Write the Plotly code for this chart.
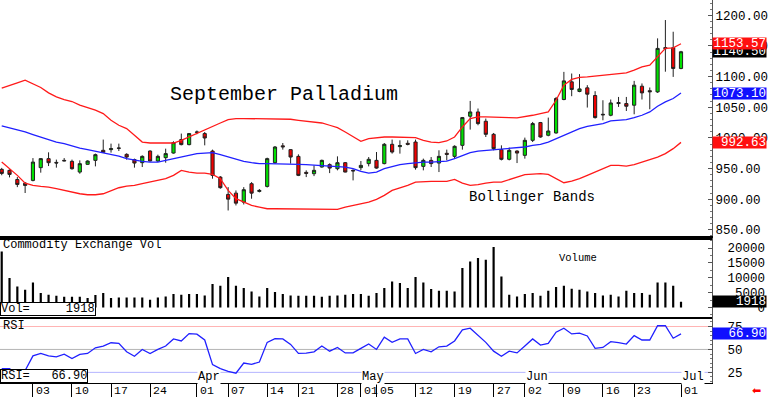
import plotly.graph_objects as go
from plotly.subplots import make_subplots

MONO = "Liberation Mono"

dates = [
    "2025-02-25", "2025-02-26", "2025-02-27", "2025-02-28",
    "2025-03-03", "2025-03-04", "2025-03-05", "2025-03-06", "2025-03-07",
    "2025-03-10", "2025-03-11", "2025-03-12", "2025-03-13", "2025-03-14",
    "2025-03-17", "2025-03-18", "2025-03-19", "2025-03-20", "2025-03-21",
    "2025-03-24", "2025-03-25", "2025-03-26", "2025-03-27", "2025-03-28",
    "2025-03-31", "2025-04-01", "2025-04-02", "2025-04-03", "2025-04-04",
    "2025-04-07", "2025-04-08", "2025-04-09", "2025-04-10", "2025-04-11",
    "2025-04-14", "2025-04-15", "2025-04-16", "2025-04-17",
    "2025-04-21", "2025-04-22", "2025-04-23", "2025-04-24", "2025-04-25",
    "2025-04-28", "2025-04-29", "2025-04-30", "2025-05-01", "2025-05-02",
    "2025-05-05", "2025-05-06", "2025-05-07", "2025-05-08", "2025-05-09",
    "2025-05-12", "2025-05-13", "2025-05-14", "2025-05-15", "2025-05-16",
    "2025-05-19", "2025-05-20", "2025-05-21", "2025-05-22", "2025-05-23",
    "2025-05-27", "2025-05-28", "2025-05-29", "2025-05-30",
    "2025-06-02", "2025-06-03", "2025-06-04", "2025-06-05", "2025-06-06",
    "2025-06-09", "2025-06-10", "2025-06-11", "2025-06-12", "2025-06-13",
    "2025-06-16", "2025-06-17", "2025-06-18", "2025-06-20",
    "2025-06-23", "2025-06-24", "2025-06-25", "2025-06-26", "2025-06-27",
    "2025-06-30", "2025-07-01",
]

open_ = [948.6, 947.0, 932.0, 926.0, 930.6, 951.4, 966.1, 960.0, 963.3, 961.7,
         944.2, 956.8, 963.3, 979.7, 980.8, 983.5, 973.1, 964.5, 959.5, 978.5,
         962.2, 967.7, 975.2, 997.2, 989.0, 1009.0, 1007.0, 978.5, 936.0, 907.7,
         909.8, 895.1, 925.2, 912.6, 920.8, 959.5, 987.0, 980.8, 969.8, 943.7,
         941.5, 952.4, 956.3, 949.7, 959.5, 947.0, 951.4, 958.0, 963.3, 958.0,
         989.5, 985.7, 991.1, 993.2, 953.5, 963.3, 958.9, 974.8, 969.8, 987.8,
         1035.3, 1042.3, 1027.1, 1005.8, 980.8, 965.0, 978.5, 971.5, 996.0, 1025.0,
         1004.2, 1008.0, 1062.6, 1091.4, 1075.7, 1081.6, 1069.1, 1038.5, 1036.9, 1057.7,
         1056.0, 1053.3, 1084.3, 1077.0, 1075.0, 1147.3, 1147.0, 1113.3]
high = [951.0, 948.6, 936.0, 928.0, 967.0, 967.0, 976.4, 964.5, 967.0, 964.5,
        963.3, 963.3, 974.3, 997.2, 990.6, 990.6, 974.8, 966.1, 971.5, 979.7,
        972.6, 982.4, 994.4, 1007.0, 1008.0, 1012.0, 1009.6, 980.8, 937.6, 919.6,
        914.2, 919.6, 927.8, 916.4, 967.7, 986.7, 991.6, 981.3, 973.1, 947.0,
        955.1, 964.5, 958.4, 969.8, 960.5, 948.6, 962.2, 968.7, 976.9, 991.6,
        997.2, 996.0, 996.0, 997.2, 966.1, 968.7, 979.7, 980.8, 987.8, 1034.1,
        1060.3, 1047.9, 1031.5, 1008.0, 987.8, 984.1, 979.7, 1000.4, 1026.0, 1026.0,
        1033.1, 1066.8, 1107.7, 1105.0, 1104.0, 1086.0, 1076.2, 1061.4, 1062.6, 1066.8,
        1066.8, 1093.0, 1088.8, 1082.2, 1162.4, 1192.3, 1173.2, 1142.0]
low = [939.0, 935.5, 919.6, 910.0, 929.0, 943.2, 954.0, 951.4, 961.7, 948.1,
       941.5, 956.0, 953.5, 975.6, 975.9, 978.5, 964.5, 951.4, 952.4, 961.7,
       960.5, 959.5, 974.3, 987.8, 987.8, 1006.0, 987.8, 933.4, 917.0, 881.5,
       889.7, 891.3, 900.7, 911.0, 919.0, 957.9, 980.8, 957.9, 937.6, 936.0,
       937.6, 951.4, 942.5, 947.0, 943.7, 930.6, 947.0, 953.5, 949.7, 956.8,
       974.3, 974.3, 987.8, 948.1, 947.0, 952.4, 944.2, 963.3, 966.1, 980.8,
       1013.5, 1020.6, 1001.4, 979.7, 963.3, 963.3, 958.9, 966.1, 993.2, 1000.4,
       1002.6, 1007.0, 1061.4, 1068.0, 1074.5, 1049.5, 1031.5, 1028.7, 1035.3, 1050.5,
       1043.9, 1038.5, 1062.6, 1046.7, 1073.4, 1108.0, 1099.5, 1112.0]
close = [942.0, 940.4, 924.0, 922.4, 960.5, 966.1, 959.5, 959.0, 962.5, 949.7,
         957.9, 962.2, 972.6, 976.4, 982.4, 983.0, 968.7, 958.9, 969.8, 962.2,
         969.8, 974.3, 992.3, 989.0, 1007.0, 1009.5, 999.8, 938.8, 918.7, 900.0,
         893.5, 915.4, 909.8, 914.2, 966.1, 985.1, 985.4, 968.7, 938.8, 942.1,
         947.0, 963.3, 950.7, 959.5, 944.2, 946.1, 955.1, 965.0, 950.7, 989.5,
         976.9, 987.4, 989.5, 951.4, 963.3, 958.0, 969.8, 973.1, 986.2, 1033.1,
         1042.3, 1023.3, 1005.8, 982.4, 965.0, 979.7, 975.2, 996.0, 1023.3, 1001.4,
         1011.2, 1064.2, 1093.0, 1079.0, 1079.9, 1071.3, 1033.1, 1037.7, 1057.0, 1056.0,
         1051.6, 1086.0, 1073.4, 1075.3, 1146.0, 1145.7, 1113.3, 1140.5]

bb_upper = [1081.0, 1086.0, 1089.7, 1094.2, 1088.8, 1082.2, 1073.4, 1066.8, 1062.6, 1059.3,
            1053.3, 1049.5, 1045.1, 1039.7, 1028.7, 1020.6, 1015.1, 1004.2, 993.2, 991.6,
            991.6, 991.6, 991.6, 996.0, 1001.4, 1008.0, 1012.4, 1018.9, 1024.3, 1029.9,
            1031.5, 1031.5, 1031.5, 1031.5, 1031.5, 1030.9, 1030.4, 1030.4, 1028.7, 1027.6,
            1026.0, 1024.3, 1020.6, 1016.8, 1009.6, 1001.4, 994.4, 998.8, 1000.4, 1001.4,
            1001.4, 1001.4, 1001.4, 1000.4, 996.0, 993.2, 992.3, 994.9, 1001.4, 1017.8,
            1031.5, 1034.1, 1034.1, 1034.1, 1034.1, 1033.1, 1032.5, 1034.1, 1036.9, 1039.7,
            1042.3, 1061.4, 1086.0, 1095.3, 1098.6, 1099.5, 1100.7, 1102.3, 1104.0, 1105.1,
            1106.1, 1110.5, 1115.9, 1118.7, 1132.3, 1146.0, 1147.0, 1153.57]
bb_mid = [1019.4, 1016.2, 1012.4, 1009.6, 1005.3, 1001.4, 997.2, 993.2, 990.6, 986.7,
          983.4, 980.8, 978.0, 975.9, 973.1, 970.3, 966.1, 963.3, 961.7, 960.5,
          960.5, 963.3, 966.1, 969.8, 972.6, 974.3, 975.2, 975.9, 972.6, 968.7,
          965.0, 961.7, 959.5, 957.9, 957.9, 957.9, 957.9, 957.9, 956.8, 956.3,
          955.6, 955.1, 954.0, 953.5, 952.4, 949.7, 945.3, 942.5, 944.2, 949.7,
          953.5, 956.3, 957.9, 959.5, 960.5, 960.5, 961.2, 962.2, 966.1, 971.5,
          975.9, 978.5, 979.7, 980.8, 981.3, 982.4, 983.4, 985.1, 987.8, 989.5,
          993.2, 998.8, 1004.2, 1009.6, 1015.1, 1018.9, 1020.6, 1023.3, 1027.6, 1028.7,
          1029.9, 1033.1, 1036.9, 1042.3, 1051.6, 1058.7, 1064.2, 1073.10]
bb_lower = [960.5, 949.7, 938.8, 926.2, 922.4, 920.8, 919.6, 917.0, 914.2, 911.5,
            908.8, 907.2, 907.2, 908.8, 914.2, 918.6, 921.3, 922.4, 925.2, 927.8,
            930.6, 933.4, 938.8, 947.0, 944.2, 942.5, 942.5, 940.4, 933.4, 914.2,
            900.7, 895.1, 889.7, 886.9, 884.3, 884.3, 884.3, 883.2, 883.2, 883.2,
            883.2, 883.2, 883.2, 883.2, 886.9, 889.7, 892.5, 895.1, 899.5, 906.1,
            914.2, 918.0, 922.4, 927.8, 929.0, 929.0, 929.0, 929.0, 932.2, 926.2,
            922.4, 923.6, 926.2, 927.8, 927.8, 932.2, 936.0, 939.9, 940.9, 941.5,
            940.4, 933.4, 926.8, 929.4, 933.4, 938.8, 944.2, 949.7, 955.1, 955.1,
            954.0, 956.3, 960.5, 965.0, 968.7, 974.3, 982.4, 992.63]

volume = [18855, 9900, 7070, 5960, 8420, 4850, 4280, 3940, 3600, 3600,
          3600, 3160, 4170, 4850, 3160, 3370, 3370, 3370, 3370, 2590,
          3370, 3700, 4510, 4280, 4510, 4510, 4040, 7880, 7310, 10240,
          7310, 6530, 5390, 3700, 6530, 5190, 4510, 4040, 3940, 3940,
          3940, 3600, 3940, 4040, 4280, 4510, 4510, 3940, 4850, 6530,
          8750, 8210, 6530, 10240, 8420, 6200, 5620, 5620, 5390, 13270,
          15490, 16630, 16060, 20340, 10440, 4280, 3700, 4510, 4850, 3940,
          5620, 6870, 7310, 6300, 5960, 5390, 4850, 4040, 4280, 3700,
          5620, 4850, 4850, 4280, 8420, 8420, 7310, 1918]

rsi = [29.0, 29.0, 23.0, 27.0, 43.0, 45.6, 43.0, 41.8, 44.8, 40.0,
       44.5, 45.6, 51.8, 53.7, 57.3, 56.6, 47.4, 42.6, 50.0, 45.6,
       50.0, 53.7, 61.4, 59.2, 67.3, 66.6, 60.3, 33.4, 29.0, 26.0,
       24.1, 35.2, 33.7, 36.3, 57.7, 61.7, 61.4, 55.5, 45.6, 45.9,
       47.4, 53.7, 48.1, 52.2, 46.2, 46.2, 51.1, 55.9, 50.0, 63.3,
       57.7, 61.4, 61.4, 45.6, 50.0, 47.4, 52.9, 53.7, 59.2, 71.3,
       73.2, 65.8, 57.7, 48.1, 42.6, 48.1, 46.2, 53.7, 61.4, 54.8,
       56.6, 68.8, 73.2, 66.9, 67.7, 64.7, 51.1, 52.2, 58.4, 57.3,
       55.9, 65.0, 60.3, 60.3, 75.8, 75.8, 62.2, 66.90]

tick_dates = ["2025-03-03", "2025-03-10", "2025-03-17", "2025-03-24", "2025-04-01",
              "2025-04-07", "2025-04-14", "2025-04-21", "2025-04-28", "2025-05-01",
              "2025-05-05", "2025-05-12", "2025-05-19", "2025-05-27", "2025-06-02",
              "2025-06-09", "2025-06-16", "2025-06-23", "2025-07-01"]
tick_labels = ["03", "10", "17", "24", "01", "07", "14", "21", "28", "01",
               "05", "12", "19", "27", "02", "09", "16", "23", "01"]
month_dates = ["2025-04-01", "2025-05-01", "2025-06-02", "2025-07-01"]
month_labels = ["Apr", "May", "Jun", "Jul"]

price_ticks = [850, 900, 950, 1000, 1050, 1100, 1150, 1200]
vol_ticks = [0, 5000, 10000, 15000, 20000]
rsi_ticks = [25, 50, 75]
rsi_levels = [75, 50, 25]
rsi_level_colors = ["#ffb4b4", "#b4b4b4", "#b4b4ff"]

RED = "#ff1a1a"
BLUE = "#2020ff"
NB = "\u00a0"

fig = make_subplots(rows=3, cols=1, shared_xaxes=True, vertical_spacing=0,
                    row_heights=[237.5, 79, 66.5])

fig.add_trace(go.Scatter(x=dates, y=bb_upper, mode="lines",
                         line=dict(color=RED, width=1.3)), row=1, col=1)
fig.add_trace(go.Scatter(x=dates, y=bb_mid, mode="lines",
                         line=dict(color=BLUE, width=1.3)), row=1, col=1)
fig.add_trace(go.Scatter(x=dates, y=bb_lower, mode="lines",
                         line=dict(color=RED, width=1.3)), row=1, col=1)
fig.add_trace(go.Candlestick(
    x=dates, open=open_, high=high, low=low, close=close,
    increasing=dict(fillcolor="#00e000", line=dict(color="#202020", width=1)),
    decreasing=dict(fillcolor="#f00000", line=dict(color="#202020", width=1)),
    whiskerwidth=0), row=1, col=1)

fig.add_trace(go.Bar(x=dates, y=volume, marker=dict(color="black", line=dict(width=0)),
                     width=0.28), row=2, col=1)

fig.add_trace(go.Scatter(x=dates, y=rsi, mode="lines",
                         line=dict(color=BLUE, width=1.3)), row=3, col=1)

for lvl, col in zip(rsi_levels, rsi_level_colors):
    fig.add_shape(type="line", xref="x3 domain", x0=0, x1=1, yref="y3", y0=lvl, y1=lvl,
                  line=dict(color=col, width=1), layer="below")

xr = [-0.22, 90.97]
fig.update_xaxes(type="category", range=xr, showgrid=False, zeroline=False,
                 rangeslider_visible=False, fixedrange=True)
fig.update_xaxes(showline=True, linecolor="black", linewidth=2, ticks="",
                 showticklabels=False, row=1, col=1)
fig.update_xaxes(showline=True, mirror=True, linecolor="black", linewidth=2, ticks="",
                 showticklabels=False, row=2, col=1)
fig.update_xaxes(showline=True, linecolor="black", linewidth=1, ticks="outside",
                 ticklen=14, tickwidth=1, tickcolor="black", tickmode="array",
                 tickvals=tick_dates, showticklabels=False, row=3, col=1)

axis_common = dict(side="right", showgrid=False, zeroline=False, showline=True,
                   linecolor="#555555", linewidth=1, ticks="inside", ticklen=4,
                   tickcolor="#555555", tickfont=dict(family=MONO, size=12.5, color="black"))
fig.update_yaxes(range=[837.4, 1225], tickmode="array", tickvals=price_ticks,
                 ticktext=["%.2f" % v for v in price_ticks],
                 minor=dict(ticks="inside", ticklen=2, dtick=10, tickcolor="#777777"),
                 **axis_common, row=1, col=1)
fig.update_yaxes(range=[-3030, 23570], tickmode="array", tickvals=vol_ticks,
                 ticktext=[str(v).rjust(5, NB) for v in vol_ticks],
                 ticklabelstandoff=12,
                 minor=dict(ticks="inside", ticklen=2, dtick=2500, tickcolor="#777777"),
                 **axis_common, row=2, col=1)
fig.update_yaxes(range=[13.4, 85.9], tickmode="array", tickvals=rsi_ticks,
                 ticktext=[str(v) for v in rsi_ticks], ticklabelstandoff=12,
                 minor=dict(ticks="inside", ticklen=2, dtick=5, tickcolor="#777777"),
                 **axis_common, row=3, col=1)

H = 383.0
def py(px):
    return (H - px) / H

ann = []
ann.append(dict(text="September Palladium", xref="paper", yref="paper", x=285 / 715, y=py(94),
                xanchor="center", yanchor="middle", showarrow=False,
                font=dict(family=MONO, size=20, color="black")))
ann.append(dict(text="Bollinger Bands", xref="paper", yref="paper", x=534.5 / 715, y=py(197),
                xanchor="center", yanchor="middle", showarrow=False,
                font=dict(family=MONO, size=14, color="black")))
ann.append(dict(text="Volume", xref="paper", yref="paper", x=580.7 / 715, y=py(257.5),
                xanchor="center", yanchor="middle", showarrow=False,
                font=dict(family=MONO, size=10.5, color="black")))
ann.append(dict(text="Commodity Exchange Vol", xref="paper", yref="paper", x=0, y=py(245),
                xanchor="left", yanchor="middle", showarrow=False, xshift=1,
                font=dict(family=MONO, size=12, color="black")))
ann.append(dict(text="RSI", xref="paper", yref="paper", x=0, y=py(325.7),
                xanchor="left", yanchor="middle", showarrow=False, xshift=1,
                font=dict(family=MONO, size=12, color="black")))
ann.append(dict(text="Vol=" + NB * 5 + str(volume[-1]), xref="paper", yref="paper", x=0,
                y=py(309), xanchor="left", yanchor="middle", showarrow=False,
                bgcolor="white", bordercolor="black", borderwidth=1, borderpad=0,
                height=12, font=dict(family=MONO, size=12, color="black")))
ann.append(dict(text="RSI=" + NB * 3 + "%.2f" % rsi[-1], xref="paper", yref="paper", x=0,
                y=py(376), xanchor="left", yanchor="middle", showarrow=False,
                bgcolor="white", bordercolor="black", borderwidth=1, borderpad=0,
                height=12, font=dict(family=MONO, size=12, color="black")))

for d, m in zip(month_dates, month_labels):
    ann.append(dict(text=m, xref="x3", yref="paper", x=d, y=py(377), xanchor="left",
                    yanchor="middle", showarrow=False, bgcolor="white", borderpad=0,
                    font=dict(family=MONO, size=12, color="black")))
for d, t in zip(tick_dates, tick_labels):
    ann.append(dict(text=t, xref="x3", yref="paper", x=d, y=py(390.5), xanchor="left",
                    yanchor="middle", showarrow=False, xshift=1,
                    font=dict(family=MONO, size=11.5, color="black")))

def value_box(val, yref, bg, fmt="%.2f"):
    return dict(text=fmt % val, xref="paper", yref=yref, x=1, y=val, xanchor="left",
                yanchor="middle", showarrow=False, bgcolor=bg, width=53, height=11,
                align="right", borderpad=0,
                font=dict(family=MONO, size=12.5, color="white"))

ann.append(value_box(close[-1], "y", "black"))
ann.append(value_box(bb_upper[-1], "y", "#ff1010"))
ann.append(value_box(bb_mid[-1], "y", "#1010ff"))
ann.append(value_box(bb_lower[-1], "y", "#ff1010"))
ann.append(value_box(volume[-1], "y2", "black", fmt="%d"))
ann.append(value_box(rsi[-1], "y3", "#1010ff"))
ann.append(dict(text="\u2b05", xref="paper", yref="paper", x=760 / 715, y=py(390),
                xanchor="center", yanchor="middle", showarrow=False,
                font=dict(family="DejaVu Sans", size=11, color="red")))

fig.update_layout(
    width=768, height=397,
    margin=dict(l=0, r=53, t=0, b=14),
    paper_bgcolor="white", plot_bgcolor="white",
    showlegend=False, hovermode=False,
    boxgap=0.42,
    annotations=ann,
)

fig.write_html("out.html",
               config={"displayModeBar": False, "staticPlot": True},
               post_script="document.body.style.margin='0';document.body.style.overflow='hidden';")
